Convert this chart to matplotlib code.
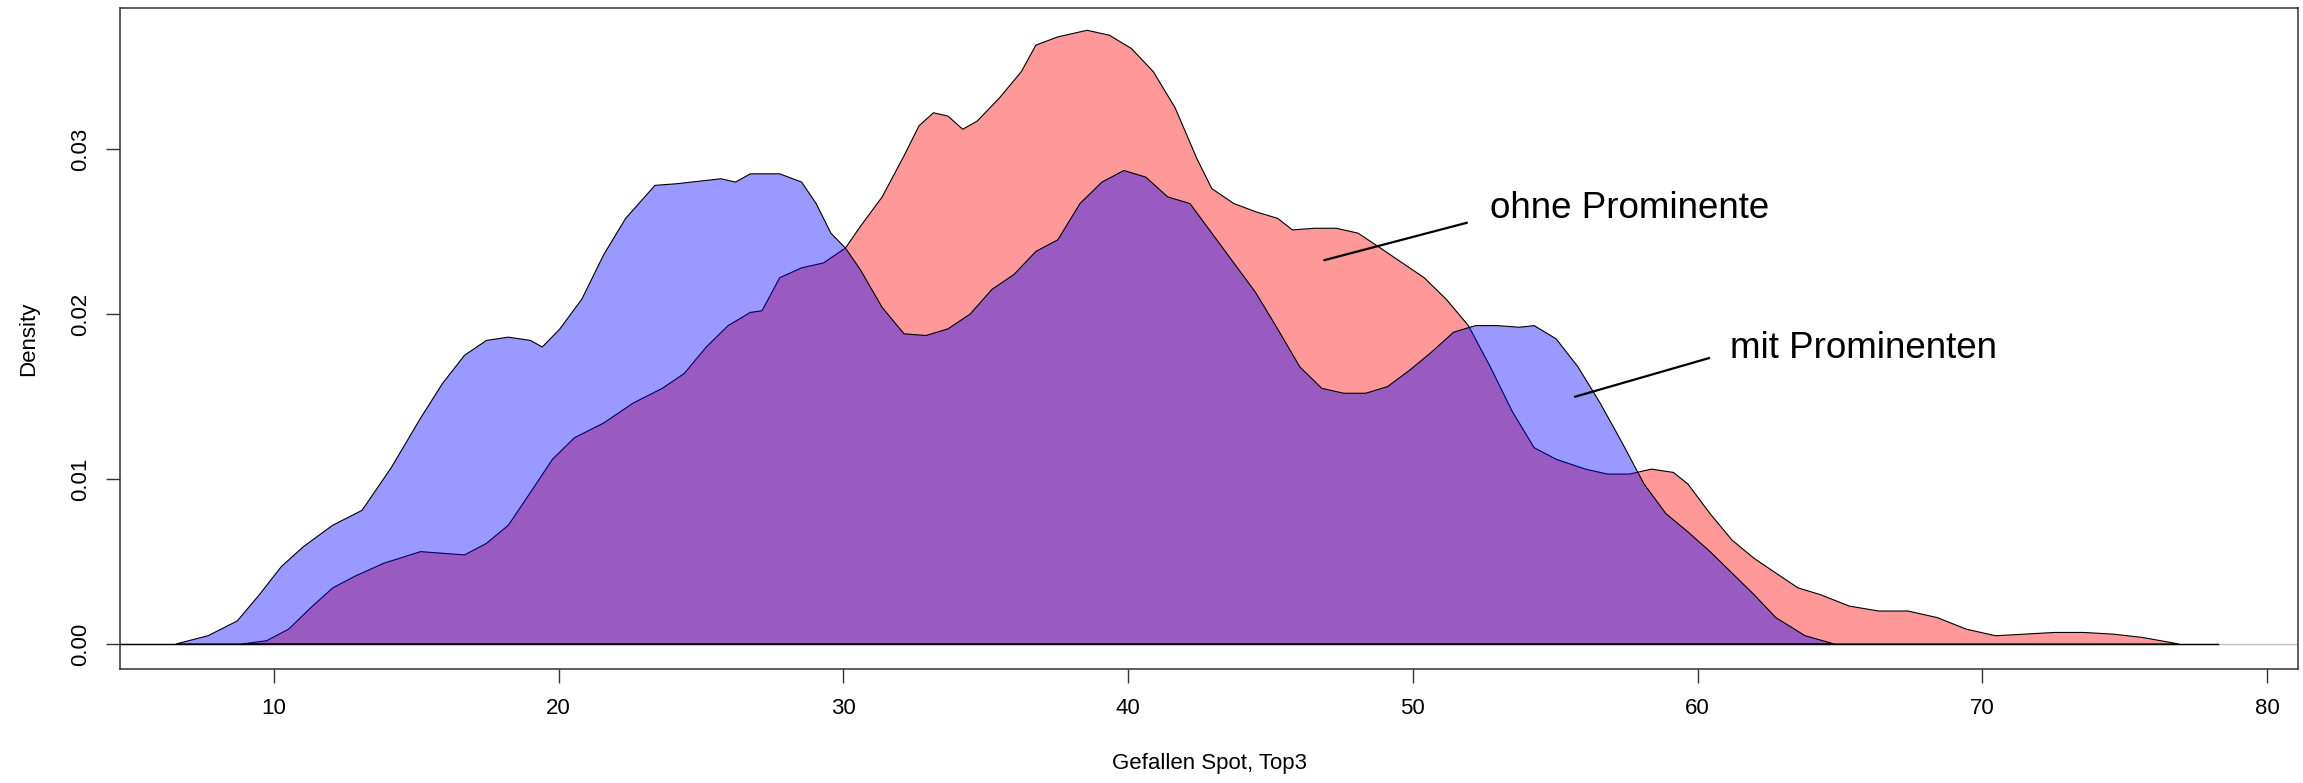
import matplotlib
matplotlib.use("Agg")
import matplotlib.pyplot as plt
import numpy as np

plt.rcParams['font.family'] = ['Liberation Sans', 'DejaVu Sans']

# "mit Prominenten" density (blue)
x_mit = [6.55, 7.68, 8.71, 9.49, 10.26, 11.03, 12.06, 13.09, 14.12, 15.15, 15.92, 16.69,
         17.46, 18.23, 19.01, 19.42, 20.04, 20.81, 21.58, 22.35, 23.38, 24.15, 25.70, 26.21,
         26.73, 27.76, 28.53, 29.04, 29.56, 30.07, 30.59, 31.36, 32.13, 32.90, 33.67, 34.45,
         35.22, 35.99, 36.76, 37.53, 38.31, 39.08, 39.85, 40.62, 41.39, 42.17, 42.94, 43.71,
         44.48, 45.25, 46.03, 46.80, 47.57, 48.34, 49.11, 49.89, 50.66, 51.43, 52.20, 52.97,
         53.75, 54.26, 55.03, 55.80, 56.58, 57.35, 58.12, 58.89, 59.66, 60.44, 61.21, 61.98,
         62.75, 63.78, 64.81]
y_mit = [0.0, 0.0005, 0.0014, 0.0030, 0.0047, 0.0059, 0.0072, 0.0081, 0.0107, 0.0137, 0.0158, 0.0175,
         0.0184, 0.0186, 0.0184, 0.0180, 0.0191, 0.0209, 0.0236, 0.0258, 0.0278, 0.0279, 0.0282, 0.0280,
         0.0285, 0.0285, 0.0280, 0.0267, 0.0249, 0.0240, 0.0227, 0.0204, 0.0188, 0.0187, 0.0191, 0.0200,
         0.0215, 0.0224, 0.0238, 0.0245, 0.0267, 0.0280, 0.0287, 0.0283, 0.0271, 0.0267, 0.0249, 0.0231,
         0.0213, 0.0191, 0.0168, 0.0155, 0.0152, 0.0152, 0.0156, 0.0166, 0.0177, 0.0189, 0.0193, 0.0193,
         0.0192, 0.0193, 0.0185, 0.0168, 0.0146, 0.0122, 0.0097, 0.0079, 0.0068, 0.0056, 0.0043, 0.0030,
         0.0016, 0.0005, 0.0]

# "ohne Prominente" density (red)
x_ohne = [8.87, 9.74, 10.51, 11.29, 12.06, 12.83, 13.86, 15.15, 15.92, 16.69, 17.46, 18.23,
          19.01, 19.78, 20.55, 21.58, 22.61, 23.64, 24.41, 25.18, 25.95, 26.73, 27.14, 27.76,
          28.53, 29.30, 30.07, 30.59, 31.36, 32.13, 32.65, 33.16, 33.67, 34.19, 34.70, 35.48,
          36.25, 36.76, 37.53, 38.56, 39.34, 40.11, 40.88, 41.65, 42.42, 42.94, 43.71, 44.48,
          45.25, 45.77, 46.54, 47.31, 48.08, 48.86, 49.63, 50.40, 51.17, 51.95, 52.72, 53.49,
          54.26, 55.03, 56.06, 56.84, 57.61, 58.38, 59.15, 59.66, 60.44, 61.21, 61.98, 62.75,
          63.53, 64.30, 65.33, 66.36, 67.39, 68.42, 69.44, 70.47, 71.50, 72.53, 73.56, 74.59,
          75.62, 76.91]
y_ohne = [0.0, 0.0002, 0.0009, 0.0022, 0.0034, 0.0041, 0.0049, 0.0056, 0.0055, 0.0054, 0.0061, 0.0072,
          0.0092, 0.0112, 0.0125, 0.0134, 0.0146, 0.0155, 0.0164, 0.0180, 0.0193, 0.0201, 0.0202, 0.0222,
          0.0228, 0.0231, 0.0240, 0.0253, 0.0271, 0.0296, 0.0314, 0.0322, 0.0320, 0.0312, 0.0317, 0.0331,
          0.0347, 0.0363, 0.0368, 0.0372, 0.0369, 0.0361, 0.0347, 0.0325, 0.0294, 0.0276, 0.0267, 0.0262,
          0.0258, 0.0251, 0.0252, 0.0252, 0.0249, 0.0240, 0.0231, 0.0222, 0.0209, 0.0193, 0.0168, 0.0141,
          0.0119, 0.0112, 0.0106, 0.0103, 0.0103, 0.0106, 0.0104, 0.0097, 0.0079, 0.0063, 0.0052, 0.0043,
          0.0034, 0.0030, 0.0023, 0.0020, 0.0020, 0.0016, 0.0009, 0.0005, 0.0006, 0.0007, 0.0007, 0.0006,
          0.0004, 0.0]

x_ticks = [10, 20, 30, 40, 50, 60, 70, 80]
y_ticks = [0.00, 0.01, 0.02, 0.03]
y_ticklabels = ["0.00", "0.01", "0.02", "0.03"]

label_ohne = "ohne Prominente"
label_mit = "mit Prominenten"

fig = plt.figure(figsize=(23.03, 7.83), dpi=100)
ax = fig.add_axes([0.05211, 0.14559, 0.94572, 0.84419])

# baseline (first density's range in black, remainder grey)
ax.axhline(0, color='#bebebe', lw=1.0, zorder=1)
ax.plot([4.0, 78.28], [0, 0], color='black', lw=1.0, zorder=2)

ax.fill(x_ohne, y_ohne, facecolor=(1, 0, 0, 0.4), edgecolor='black', lw=0.8, zorder=3)
ax.fill(x_mit, y_mit, facecolor=(0, 0, 1, 0.4), edgecolor='black', lw=0.8, zorder=4)

# annotations
ax.plot([46.90, 51.89], [0.02327, 0.02553], color='black', lw=1.6, zorder=5)
ax.plot([55.70, 60.40], [0.01499, 0.01733], color='black', lw=1.6, zorder=5)
ax.text(52.71, 0.02642, label_ohne, fontsize=26.5, ha='left', va='center', zorder=6)
ax.text(61.14, 0.01794, label_mit, fontsize=26.5, ha='left', va='center', zorder=6)

ax.set_xlim(4.59, 81.09)
ax.set_ylim(-0.001515, 0.03855)

ax.set_xticks(x_ticks)
ax.set_xticklabels([str(t) for t in x_ticks])
ax.set_yticks(y_ticks)
ax.set_yticklabels(y_ticklabels, rotation=90, va='center')

ax.tick_params(axis='both', direction='out', length=10, width=1.0, labelsize=16, color='#333333')
ax.tick_params(axis='x', pad=11)
ax.tick_params(axis='y', pad=11)

for s in ax.spines.values():
    s.set_linewidth(1.1)
    s.set_color('#333333')

ax.set_xlabel("Gefallen Spot, Top3", fontsize=16, labelpad=24)
ax.set_ylabel("Density", fontsize=16, labelpad=22)

fig.savefig("out.png", dpi=100)
